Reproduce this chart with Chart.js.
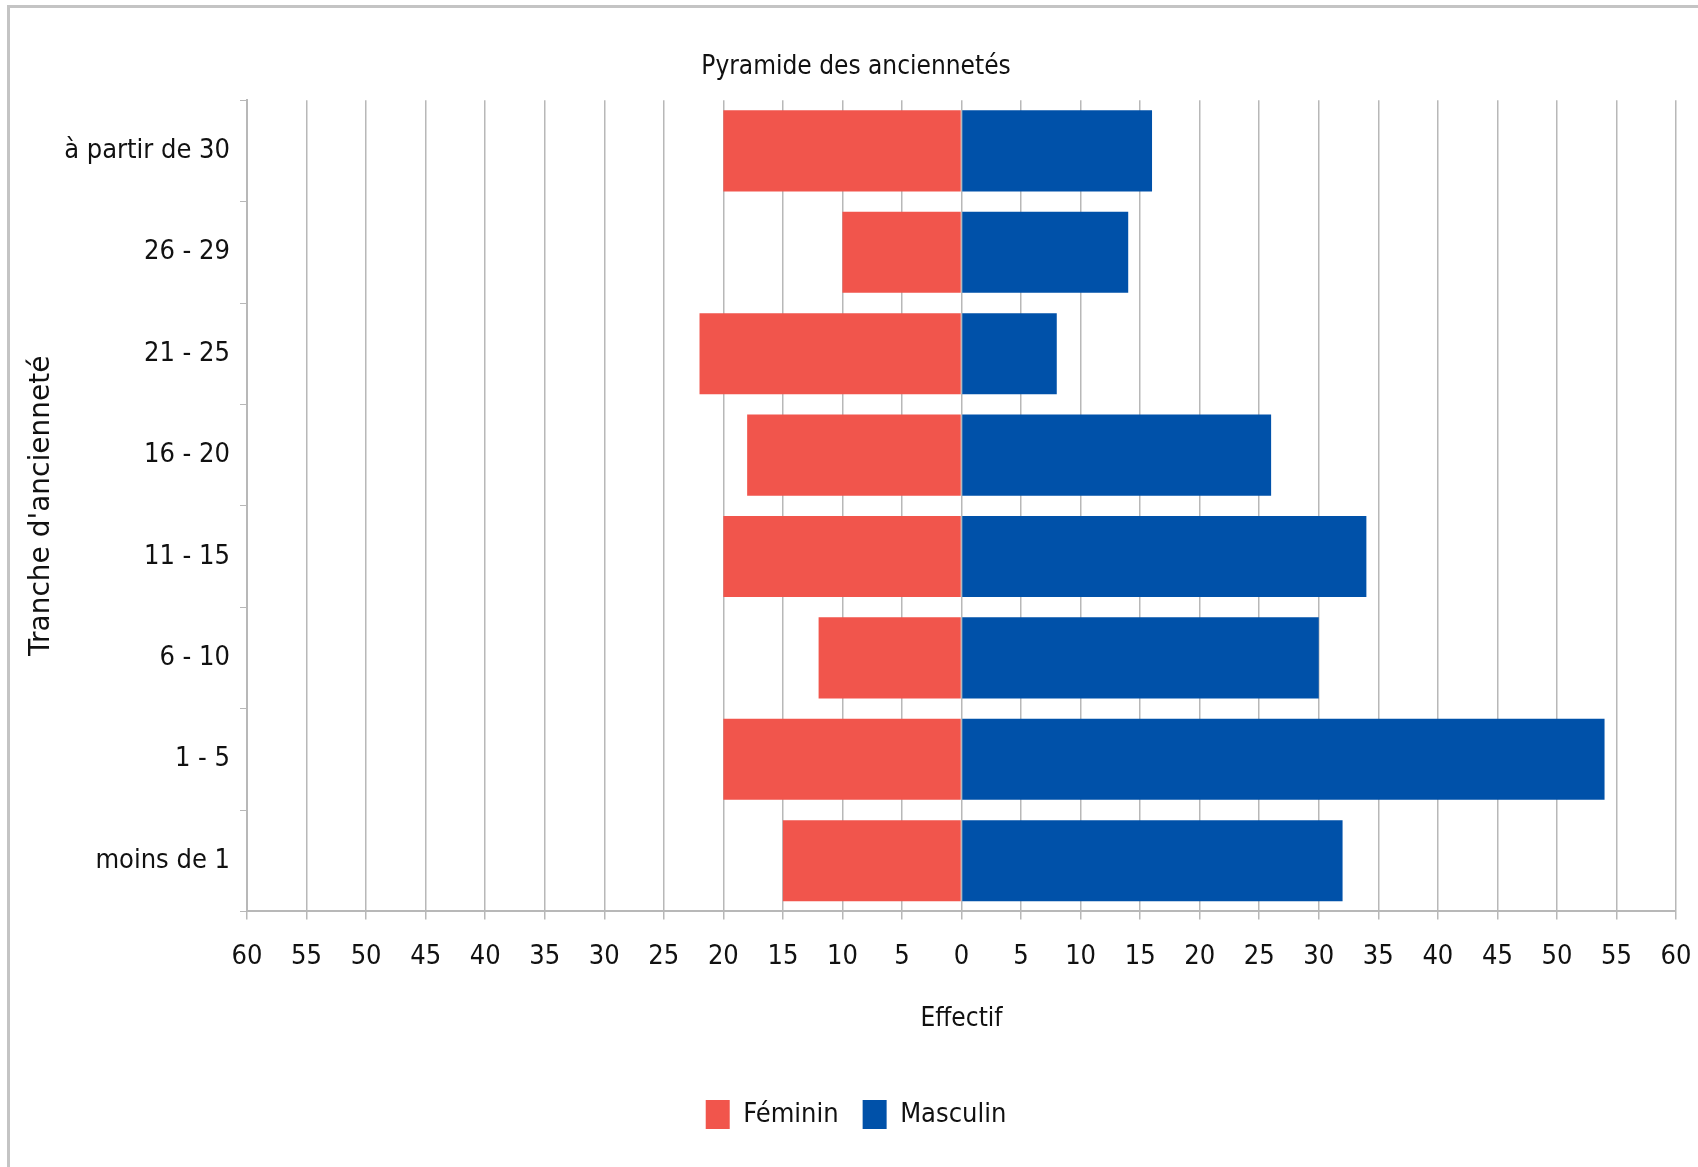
<!DOCTYPE html>
<html>
<head>
<meta charset="utf-8">
<script src="https://cdn.jsdelivr.net/npm/chart.js@4.4.1/dist/chart.umd.min.js"></script>
<style>
  html, body { margin: 0; padding: 0; background: #fff; overflow: hidden; }
  #frame {
    position: absolute; left: 7px; top: 5px; width: 1691px; height: 1162px;
    border-left: 3px solid #c4c4c4; border-top: 3px solid #c4c4c4;
  }
  #pyramide { position: absolute; left: 0; top: 0; }
</style>
</head>
<body>
<div id="frame"><canvas id="pyramide" width="1688" height="1162"></canvas></div>
<script>
// tranches, top to bottom as in the picture
const tranches = ["à partir de 30", "26 - 29", "21 - 25", "16 - 20", "11 - 15", "6 - 10", "1 - 5", "moins de 1"];
const feminin = [20, 10, 22, 18, 20, 12, 20, 15];
const masculin = [16, 14, 8, 26, 34, 30, 54, 32];
const xMin = -60;
const xMax = 60;
const xStep = 5;

const condensed = "'DejaVu Sans Condensed', 'DejaVu Sans', sans-serif";
const gridGrey = '#b8b8b8';

var chart;

function draw_chart() {
    let ctx = document.getElementById("pyramide").getContext("2d");
    chart = new Chart(ctx, {
        type: "bar",
        data: {
            labels: tranches,
            datasets: [
                {
                    label: "Féminin",
                    data: feminin.map(v => -v),
                    backgroundColor: "#f1554c",
                    barPercentage: 0.8,
                    categoryPercentage: 1
                },
                {
                    label: "Masculin",
                    data: masculin,
                    backgroundColor: "#0051a9",
                    barPercentage: 0.8,
                    categoryPercentage: 1
                }
            ]
        },
        options: {
            indexAxis: 'y',
            responsive: false,
            animation: false,
            devicePixelRatio: 1,
            layout: {
                padding: { left: 26, right: 22, top: 0, bottom: 31 }
            },
            scales: {
                x: {
                    stacked: true,
                    min: xMin,
                    max: xMax,
                    border: { color: gridGrey, width: 2 },
                    grid: {
                        color: gridGrey,
                        lineWidth: 1.5,
                        tickLength: 8
                    },
                    ticks: {
                        stepSize: xStep,
                        color: '#111',
                        padding: 21,
                        font: { family: condensed, size: 27 },
                        callback: (v) => Math.abs(v)
                    },
                    title: {
                        display: true,
                        text: 'Effectif',
                        color: '#111',
                        padding: { top: 10, bottom: 41 },
                        font: { family: condensed, size: 26 }
                    },
                    // the last tick label may hang past the plot, as in the picture
                    afterFit: (scale) => { scale.paddingRight = 0; }
                },
                y: {
                    stacked: true,
                    border: { color: gridGrey, width: 2 },
                    grid: {
                        offset: true,
                        drawOnChartArea: false,
                        color: gridGrey,
                        tickLength: 7
                    },
                    ticks: {
                        color: '#111',
                        padding: 10,
                        font: { family: condensed, size: 27 }
                    },
                    title: {
                        display: true,
                        text: "Tranche d'ancienneté",
                        color: '#111',
                        padding: { top: -11, bottom: 4 },
                        font: { family: "'DejaVu Sans', sans-serif", size: 28 }
                    },
                    afterFit: (scale) => { scale.width = 211; }
                }
            },
            plugins: {
                title: {
                    display: true,
                    text: 'Pyramide des anciennetés',
                    color: '#111',
                    padding: { top: 44, bottom: 17 },
                    font: { family: condensed, size: 26, weight: 'normal' }
                },
                legend: {
                    position: 'bottom',
                    labels: {
                        color: '#111',
                        boxWidth: 24,
                        boxHeight: 29,
                        padding: 24,
                        font: { family: condensed, size: 27 }
                    }
                },
                tooltip: { enabled: false }
            }
        }
    });
}

draw_chart();
</script>
</body>
</html>
